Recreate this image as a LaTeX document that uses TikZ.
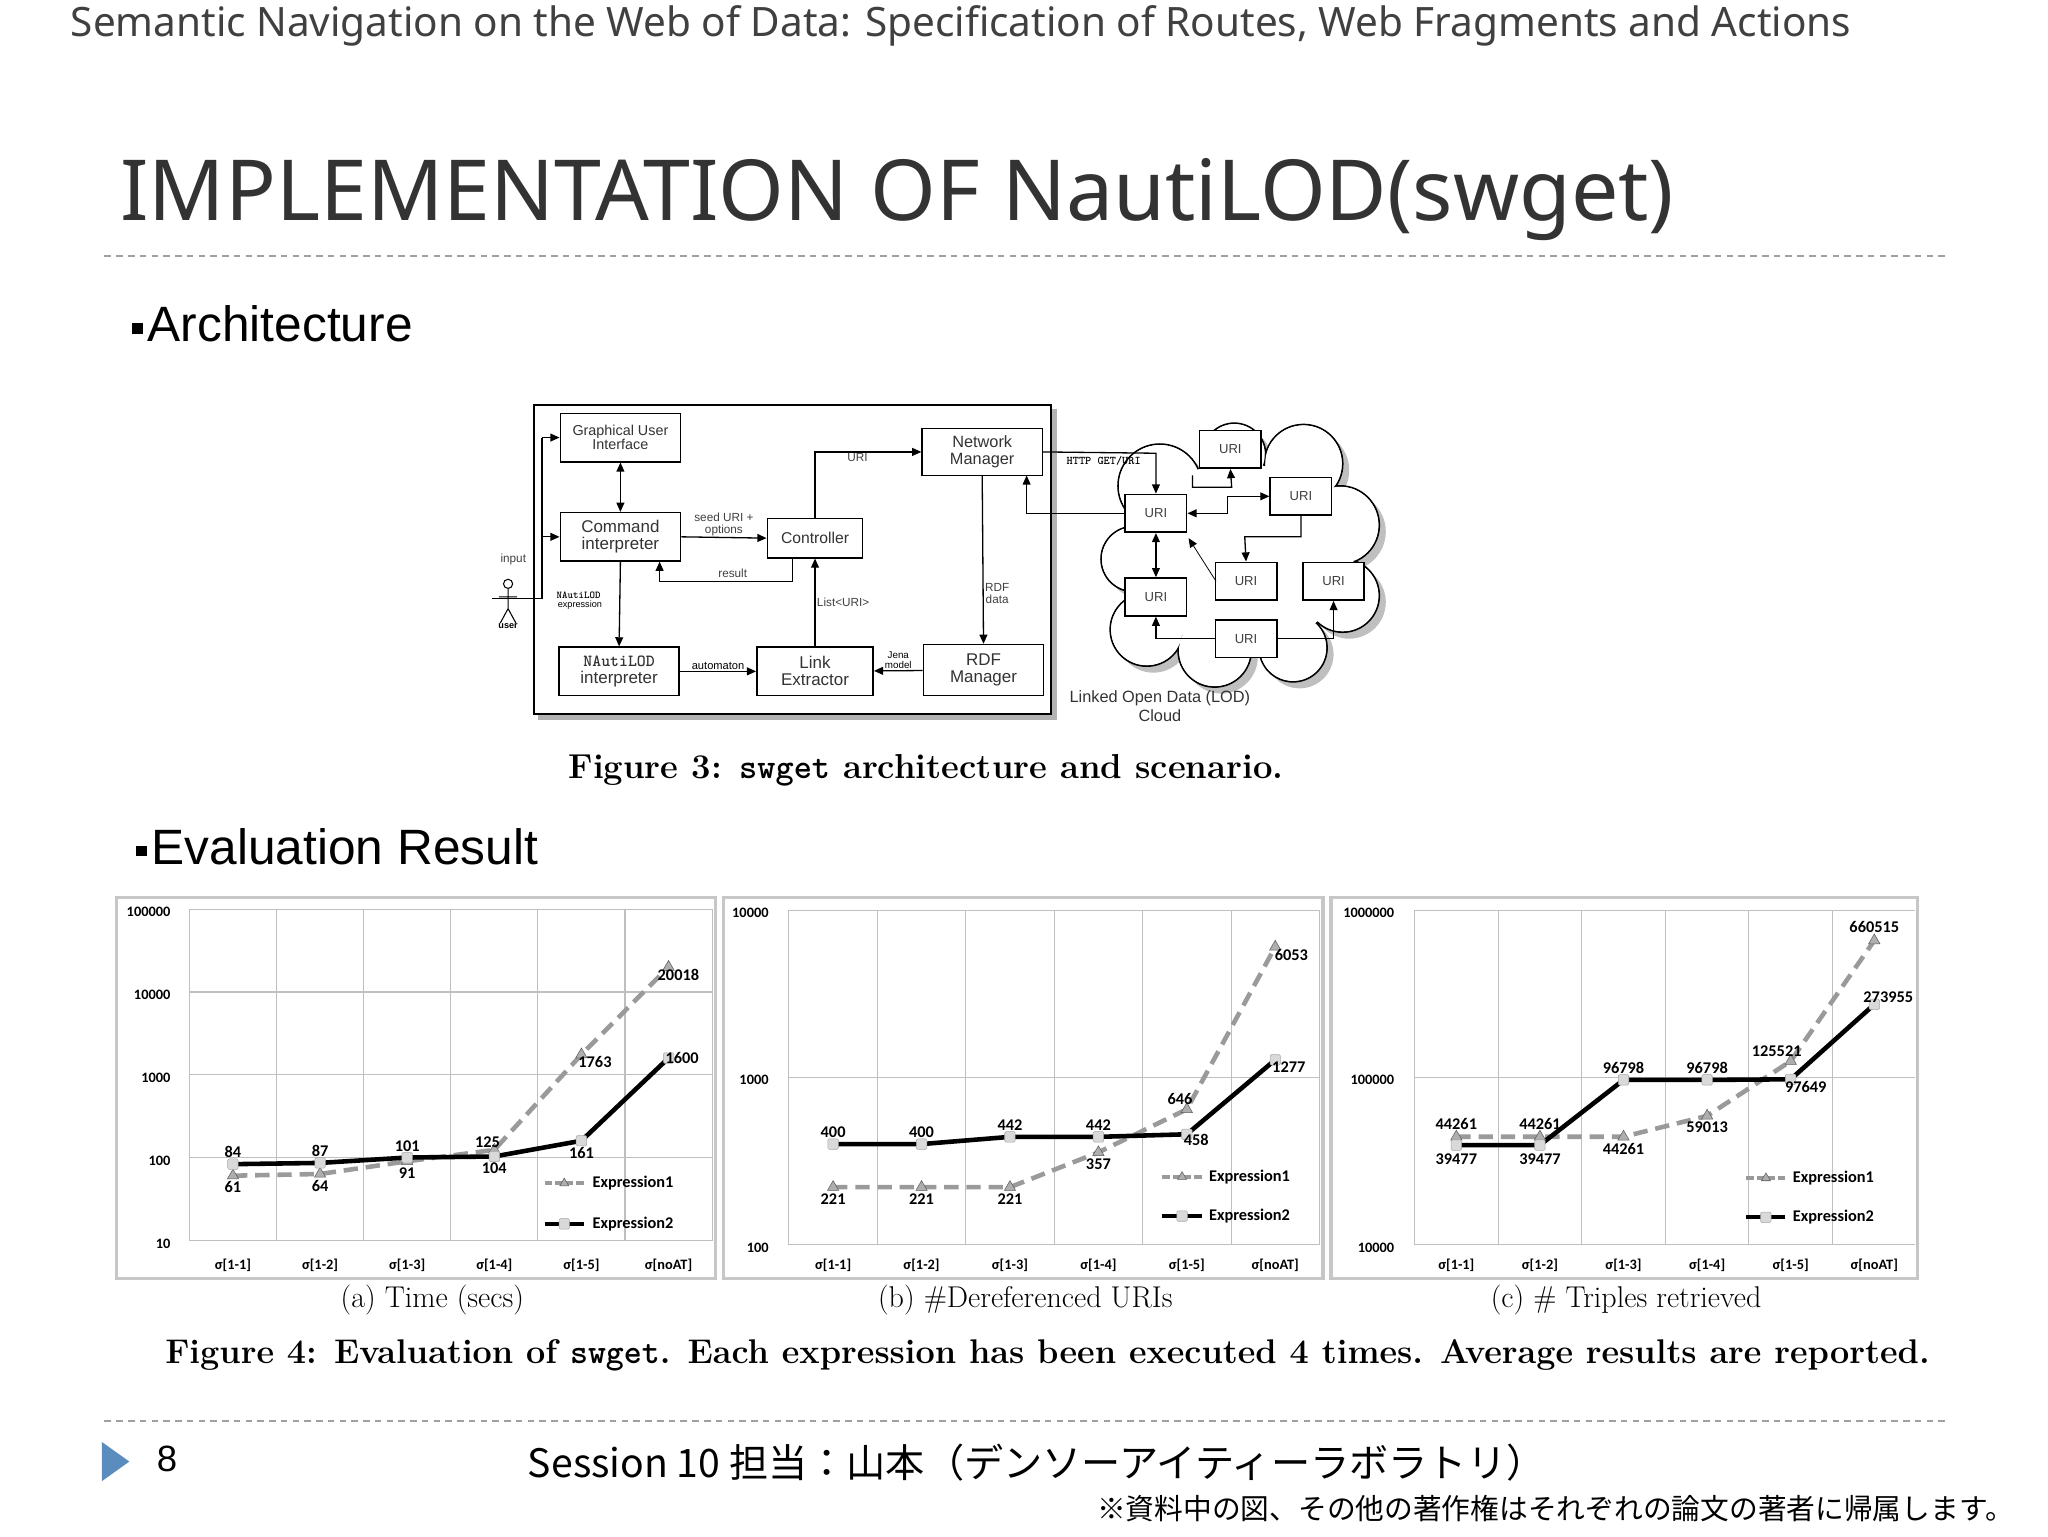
\documentclass[tikz,border=0pt]{standalone}
\usepackage{fontspec}
\usetikzlibrary{arrows.meta,shadows,positioning,shapes.geometric}
\newfontfamily\hdr{Noto Sans}
\newfontfamily\ars{Liberation Sans}
\newfontfamily\calfont{Carlito}
\newfontfamily\jp{Noto Sans CJK JP}
\definecolor{hdrgray}{HTML}{404040}
\definecolor{dashgray}{HTML}{A0A0A0}
\definecolor{tri}{HTML}{5B8CBE}
\definecolor{e1}{HTML}{9A9A9A}
\newcommand\fs[1]{\fontsize{#1}{#1}\selectfont}
\newcommand\sqb{\rule[0.3ex]{8pt}{8pt}\hspace{4pt}}
\tikzset{
  box/.style={draw,line width=1.2pt,fill=white,inner sep=0pt,font=\ars\fs{11}\color{black!80},align=center},
  conn/.style={line width=1pt,-{Triangle[length=7pt,width=6pt]}},
  dconn/.style={line width=1pt,{Triangle[length=7pt,width=6pt]}-{Triangle[length=7pt,width=6pt]}},
  lbl/.style={font=\ars\fs{9}\color{black!75},inner sep=1pt,align=center},
  grid/.style={draw=black!25,line width=0.8pt},
  frame/.style={draw=black!22,line width=2.5pt},
  exp1/.style={draw=e1,line width=3.5pt,dash pattern=on 11pt off 6pt},
  exp2/.style={draw=black,line width=3.5pt},
  vl/.style={font=\calfont\bfseries\fs{12.5},inner sep=1.5pt},
  ax/.style={font=\calfont\bfseries\fs{11}},
  sq/.style={fill=black!15,draw=black!35,minimum size=8pt,inner sep=0pt,rounded corners=1pt},
  trm/.style={regular polygon,regular polygon sides=3,fill=e1!80,draw=e1!60!black,minimum size=10pt,inner sep=0pt},
}
\begin{document}
\begin{tikzpicture}[x=1pt,y=-1pt]
\useasboundingbox (0,0) rectangle (1568,1176);
% header
\node[anchor=west,font=\hdr\fs{31},text=hdrgray,inner sep=0] (hd) at (54,20) {Semantic Navigation on the Web of Data: Specification of Routes, Web Fragments and Actions};
\node[anchor=west,font=\hdr\fs{64.5},text=black!80,inner sep=0] (title) at (92,153) {IMPLEMENTATION OF NautiLOD(swget)};
\draw[dashgray,line width=1pt,dash pattern=on 5pt off 4pt] (80,196) -- (1490,196);
\node[anchor=west,font=\ars\fs{38},inner sep=0] (sec1) at (101,248) {\sqb Architecture};
\node[anchor=west,font=\ars\fs{38},inner sep=0] (sec2) at (104,648) {\sqb Evaluation Result};

% ===== architecture =====
\fill[black!30] (412,313) rectangle (809,551);
\draw[line width=1.5pt,fill=white] (409,310) rectangle (805,547);
\node[box,minimum width=92pt,minimum height=37pt] (gui) at (475,335) {Graphical User\\Interface};
\node[box,minimum width=92pt,minimum height=37pt,font=\ars\fs{13}\color{black!80}] (cmd) at (475,411) {Command\\interpreter};
\node[box,minimum width=73pt,minimum height=30pt,font=\ars\fs{12}\color{black!80}] (ctl) at (624,412) {Controller};
\node[box,minimum width=92pt,minimum height=36pt,font=\ars\fs{12.5}\color{black!80}] (nm) at (752,346) {Network\\Manager};
\node[box,minimum width=92pt,minimum height=37pt,font=\fs{13}\color{black!80}] (nai) at (474,514) {\ttfamily\bfseries NAutiLOD\\\ars interpreter};
\node[box,minimum width=89pt,minimum height=37pt,font=\ars\fs{13}\color{black!80}] (le) at (624,514) {Link\\Extractor};
\node[box,minimum width=92pt,minimum height=39pt,font=\ars\fs{13}\color{black!80}] (rdf) at (753,513) {RDF\\Manager};
% user
\draw[line width=0.8pt] (389,447) circle (3.5pt);
\draw[line width=0.8pt] (389,451) -- (389,466) (382,457)--(396,457) (389,466)--(383,477) (389,466)--(395,477);
\node[lbl] (inp) at (393,428) {input};
\node[lbl,font=\ars\bfseries\fs{7}] (usr) at (389,479) {user};
\coordinate (uj) at (415,458);
\draw[line width=1pt] (377,458) -- (uj) -- (415,335);
\draw[conn] (415,335) -- (gui.west);
\draw[conn] (415,411) -- (cmd.west);
\draw[dconn] (gui) -- (cmd);
\draw[conn] (cmd.east) -- node[lbl,above]{seed URI +\\options} (ctl.west);
\draw[conn] (ctl.south west)++(20,0) |- (505,445) -- (505,430);
\node[lbl] (res) at (561,439) {result};
\draw[conn] (cmd.south) -- (nai.north);
\node[lbl,anchor=north,font=\fs{8}] (nexp) at (443,452) {\ttfamily\bfseries NAutiLOD\\[-1pt]\ars\fs{7} expression};
\draw[conn] (nai) -- node[lbl,above,font=\ars\fs{8.5}]{automaton} (le);
\draw[conn] (le.north) -- node[lbl,right]{List<URI>} (ctl.south);
\draw[conn] (rdf) -- node[lbl,above,font=\ars\fs{7.5}]{Jena\\model} (le);
\draw[conn] (ctl.north) |- node[lbl,below,pos=0.7]{URI} (nm.west);
\draw[conn] (nm.south) -- node[lbl,right,pos=0.7]{RDF\\data} (rdf.north);

% cloud
\begin{scope}
\def\lobes{888/372/32,945/348/24,998/355/30,1026/402/30,1028/456/28,990/496/26,930/498/28,878/482/28,868/428/25}
\foreach \cx/\cy/\r in \lobes {\fill[black!25] (\cx+5,\cy+5) circle (\r pt);}
\foreach \cx/\cy/\r in \lobes {\draw[line width=1.3pt] (\cx,\cy) circle (\r pt);}
\foreach \cx/\cy/\r in \lobes {\fill[white] (\cx,\cy) circle (\r pt-0.7pt);}
\fill[white] (948,425) ellipse (88pt and 70pt);
\end{scope}
\tikzset{ubox/.style={box,minimum width=47pt,minimum height=29pt,font=\ars\fs{10}\color{black!75}}}
\node[ubox] (u1) at (942,344) {URI};
\node[ubox] (u2) at (885,393) {URI};
\node[ubox] (u3) at (996,380) {URI};
\node[ubox] (u4) at (954,445) {URI};
\node[ubox] (u5) at (1021,445) {URI};
\node[ubox] (u6) at (885,457) {URI};
\node[ubox] (u7) at (954,489) {URI};
\draw[conn] (nm.east) -- (885,347) -- (u2.north);
\node[font=\ttfamily\bfseries\fs{9},inner sep=0] (http) at (845,353) {HTTP GET/URI};
\draw[conn] (u2.west) -- (786,393) -- (786,364);
\draw[conn] (913,364) -- (913,373) -- (943,373) -- (u1.south);
\draw[dconn] (u2.east) -- (940,393) -- (940,380) -- (u3.west);
\draw[conn] (u3.south) -- (996,411) -- (953,411) -- (u4.north);
\draw[line width=0.6pt,-{Triangle[length=7pt,width=6pt]}] (931,445) -- (910,412);
\draw[dconn] (u2.south) -- (u6.north);
\draw[conn] (u7.west) -| (u6.south);
\draw[conn] (u7.east) -| (u5.south);
\node[font=\ars\fs{12.5},align=center,text=black!80,inner sep=0] (lod) at (888,541) {Linked Open Data (LOD)\\[2pt]Cloud};
\node[font=\bfseries\fs{26.5},inner sep=0] (cap3) at (709,590) {Figure 3: {\ttfamily swget} architecture and scenario.};

% ===== charts =====
% chart a
\draw[frame] (89,687) rectangle (548,979);
\foreach \k in {0,...,4} \draw[grid] (145,{950-\k*63.5}) -- (545,{950-\k*63.5});
\foreach \k in {0,...,6} \draw[grid] ({145+\k*66.7},696) -- ({145+\k*66.7},950);
\foreach \k/\t in {0/10,1/100,2/1000,3/10000,4/100000} \node[ax,anchor=east] at (134,{952-\k*63.5}) {\t};
\foreach \i/\t in {1/σ[1-1],2/σ[1-2],3/σ[1-3],4/σ[1-4],5/σ[1-5],6/σ[noAT]} \node[ax] at ({145+(\i-0.5)*66.7},969) {\t};
\foreach \i/\v in {1/0.61,2/0.64,3/0.91,4/1.25,5/17.63,6/200.18} \coordinate (a1\i) at ({145+(\i-0.5)*66.7},{950-(log10(\v)+1)*63.5});
\foreach \i/\v in {1/0.84,2/0.87,3/1.01,4/1.04,5/1.61,6/16.00} \coordinate (a2\i) at ({145+(\i-0.5)*66.7},{950-(log10(\v)+1)*63.5});
\draw[exp1] (a11)--(a12)--(a13)--(a14)--(a15)--(a16);
\draw[exp2] (a21)--(a22)--(a23)--(a24)--(a25)--(a26);
\foreach \i in {1,...,6} {\node[trm] at (a1\i) {}; \node[sq] at (a2\i) {};}
\foreach \i/\t in {1/61,2/64,3/91} \node[vl,below=3pt] at (a1\i) {\t};
\node[vl,above left=0pt and -6pt] at (a14) {125};
\node[vl,below right=0pt and -4pt] at (a15) {1763};
\node[vl,below right=0pt and -10pt] at (a16) {20018};
\foreach \i/\t in {1/84,2/87,3/101} \node[vl,above=3pt] at (a2\i) {\t};
\node[vl,below=3pt] at (a24) {104};
\node[vl,below=3pt] at (a25) {161};
\node[vl,right=-4pt] at (a26) {1600};
\draw[exp1,line width=3pt,dash pattern=on 6pt off 2pt] (417,906) -- (447,906); \node[trm,minimum size=8pt] at (432,906) {};
\node[vl,anchor=west] at (452,906) {Expression1};
\draw[exp2,line width=3pt] (417,937) -- (447,937); \node[sq] at (432,937) {};
\node[vl,anchor=west] at (452,937) {Expression2};
\node[font=\fs{23},inner sep=0] (ca) at (331,995) {(a) Time (secs)};

% chart b
\draw[frame] (554,687) rectangle (1013,979);
\foreach \k in {0,...,2} \draw[grid] (604,{953-\k*128}) -- (1010,{953-\k*128});
\foreach \k in {0,...,6} \draw[grid] ({604+\k*67.7},697) -- ({604+\k*67.7},953);
\foreach \k/\t in {0/100,1/1000,2/10000} \node[ax,anchor=east] at (592,{955-\k*128}) {\t};
\foreach \i/\t in {1/σ[1-1],2/σ[1-2],3/σ[1-3],4/σ[1-4],5/σ[1-5],6/σ[noAT]} \node[ax] at ({604+(\i-0.5)*67.7},969) {\t};
\foreach \i/\v in {1/2.21,2/2.21,3/2.21,4/3.57,5/6.46,6/60.53} \coordinate (b1\i) at ({604+(\i-0.5)*67.7},{953-(log10(\v))*128});
\foreach \i/\v in {1/4.00,2/4.00,3/4.42,4/4.42,5/4.58,6/12.77} \coordinate (b2\i) at ({604+(\i-0.5)*67.7},{953-(log10(\v))*128});
\draw[exp1] (b11)--(b12)--(b13)--(b14)--(b15)--(b16);
\draw[exp2] (b21)--(b22)--(b23)--(b24)--(b25)--(b26);
\foreach \i in {1,...,6} {\node[trm] at (b1\i) {}; \node[sq] at (b2\i) {};}
\foreach \i/\t in {1/221,2/221,3/221,4/357} \node[vl,below=3pt] at (b1\i) {\t};
\node[vl,above left=2pt and -6pt] at (b15) {646};
\node[vl,below right=0pt and -2pt] at (b16) {6053};
\foreach \i/\t in {1/400,2/400,3/442,4/442} \node[vl,above=3pt] at (b2\i) {\t};
\node[vl,below right=-2pt and -4pt] at (b25) {458};
\node[vl,below right=0pt and -4pt] at (b26) {1277};
\draw[exp1,line width=3pt,dash pattern=on 6pt off 2pt] (890,901) -- (920,901); \node[trm,minimum size=8pt] at (905,901) {};
\node[vl,anchor=west] at (924,901) {Expression1};
\draw[exp2,line width=3pt] (890,931) -- (920,931); \node[sq] at (905,931) {};
\node[vl,anchor=west] at (924,931) {Expression2};
\node[font=\fs{23},inner sep=0] (cb) at (785,995) {(b) \#Dereferenced URIs};

% chart c
\draw[frame] (1019,687) rectangle (1468,979);
\foreach \k in {0,...,2} \draw[grid] (1083,{953-\k*128}) -- (1466,{953-\k*128});
\foreach \k in {0,...,6} \draw[grid] ({1083+\k*64},697) -- ({1083+\k*64},953);
\foreach \k/\t in {0/10000,1/100000,2/1000000} \node[ax,anchor=east] at (1071,{955-\k*128}) {\t};
\foreach \i/\t in {1/σ[1-1],2/σ[1-2],3/σ[1-3],4/σ[1-4],5/σ[1-5],6/σ[noAT]} \node[ax] at ({1083+(\i-0.5)*64},969) {\t};
\foreach \i/\v in {1/4.4261,2/4.4261,3/4.4261,4/5.9013,5/12.5521,6/66.0515} \coordinate (c1\i) at ({1083+(\i-0.5)*64},{953-(log10(\v))*128});
\foreach \i/\v in {1/3.9477,2/3.9477,3/9.6798,4/9.6798,5/9.7649,6/27.3955} \coordinate (c2\i) at ({1083+(\i-0.5)*64},{953-(log10(\v))*128});
\draw[exp1] (c11)--(c12)--(c13)--(c14)--(c15)--(c16);
\draw[exp2] (c21)--(c22)--(c23)--(c24)--(c25)--(c26);
\foreach \i in {1,...,6} {\node[trm] at (c1\i) {}; \node[sq] at (c2\i) {};}
\foreach \i/\t in {1/44261,2/44261} \node[vl,above=4pt] at (c1\i) {\t};
\node[vl,below=3pt] at (c13) {44261};
\node[vl,below=3pt] at (c14) {59013};
\node[vl,above left=2pt and -10pt] at (c15) {125521};
\node[vl,above=4pt] at (c16) {660515};
\foreach \i/\t in {1/39477,2/39477} \node[vl,below=5pt] at (c2\i) {\t};
\node[vl,above=3pt] at (c23) {96798};
\node[vl,above=3pt] at (c24) {96798};
\node[vl,below right=0pt and -6pt] at (c25) {97649};
\node[vl,above right=0pt and -10pt] at (c26) {273955};
\draw[exp1,line width=3pt,dash pattern=on 6pt off 2pt] (1337,902) -- (1367,902); \node[trm,minimum size=8pt] at (1352,902) {};
\node[vl,anchor=west] at (1371,902) {Expression1};
\draw[exp2,line width=3pt] (1337,932) -- (1367,932); \node[sq] at (1352,932) {};
\node[vl,anchor=west] at (1371,932) {Expression2};
\node[font=\fs{23},inner sep=0] (cc) at (1245,995) {(c) \# Triples retrieved};

\node[font=\bfseries\fs{26.2},inner sep=0] (cap4) at (802,1038) {Figure 4: Evaluation of {\ttfamily swget}. Each expression has been executed 4 times. Average results are reported.};

% footer
\draw[dashgray,line width=1pt,dash pattern=on 5pt off 4pt] (80,1088) -- (1490,1088);
\fill[tri] (78,1104) -- (99,1119) -- (78,1134) -- cycle;
\node[font=\ars\fs{28},anchor=west,inner sep=0] (pg) at (120,1117) {8};
\node[font=\jp\fs{30},anchor=west,inner sep=0] (ses) at (404,1120) {Session 10 担当：山本（デンソーアイティーラボラトリ）};
\node[font=\jp\fs{22},anchor=east,inner sep=0] (note) at (1542,1155) {※資料中の図、その他の著作権はそれぞれの論文の著者に帰属します。};
\end{tikzpicture}
\end{document}
